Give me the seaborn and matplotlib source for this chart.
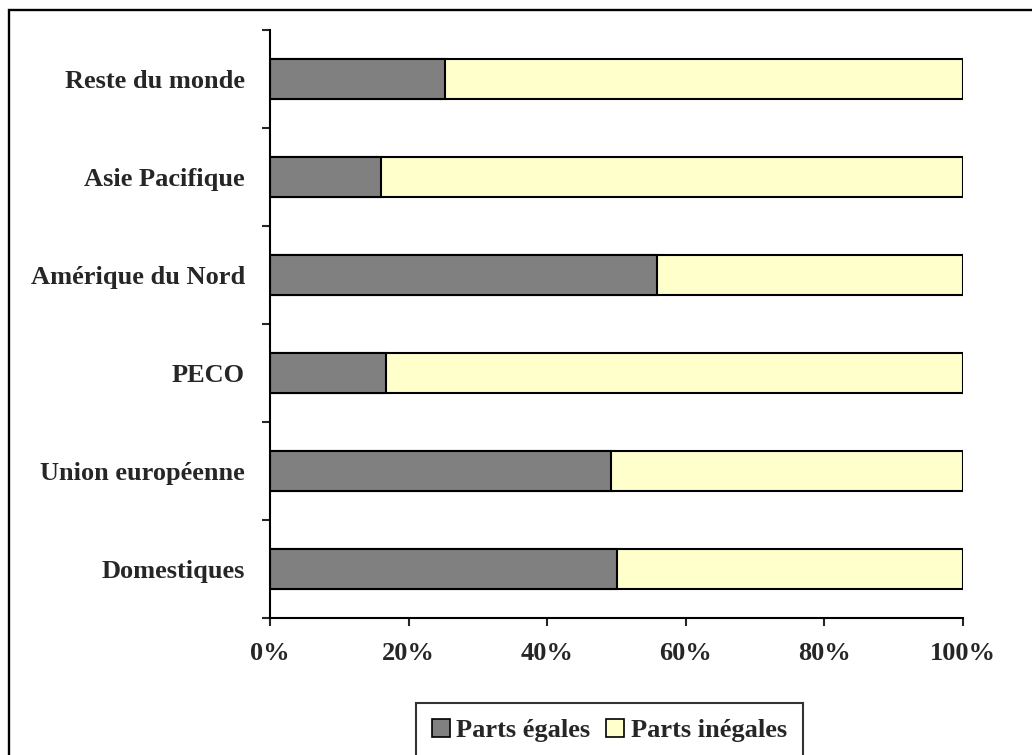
import numpy as np
import pandas as pd
import seaborn as sns
import matplotlib.pyplot as plt
from matplotlib.patches import Patch, Rectangle

regions = ['Reste du monde', 'Asie Pacifique', 'Amérique du Nord', 'PECO',
           'Union européenne', 'Domestiques']
parts_egales = [25.3, 16.0, 55.8, 16.7, 49.2, 50.1]
parts_inegales = [100 - v for v in parts_egales]
xtick_labels = ['0%', '20%', '40%', '60%', '80%', '100%']

df = pd.DataFrame({'region': regions, 'egales': parts_egales, 'inegales': parts_inegales})
df['total'] = df['egales'] + df['inegales']

sns.set_style('white')
plt.rcParams['font.family'] = ['Liberation Serif', 'DejaVu Serif']
plt.rcParams['font.weight'] = 'bold'

fig = plt.figure(figsize=(10.32, 7.55), dpi=100)
ax = fig.add_axes([0.2616, 0.1815, 0.6715, 0.7788])

grey = '#808080'
yellow = '#FFFFCC'

# stacked: full bar in yellow, then the grey share on top
sns.barplot(data=df, x='total', y='region', order=regions, color=yellow,
            edgecolor='black', linewidth=1.5, width=0.41, ax=ax, saturation=1)
sns.barplot(data=df, x='egales', y='region', order=regions, color=grey,
            edgecolor='black', linewidth=1.5, width=0.41, ax=ax, saturation=1)

ax.set_xlim(0, 100)
ax.set_ylim(len(regions) - 0.5, -0.5)
ax.set_xticks([0, 20, 40, 60, 80, 100])
ax.set_xticklabels(xtick_labels, fontsize=19, fontweight='bold')
ax.set_yticks(range(len(regions)))
ax.set_yticklabels(regions, fontsize=19, fontweight='bold')
ax.tick_params(axis='y', length=0, pad=18)
ax.set_yticks(np.arange(-0.5, len(regions), 1), minor=True)
ax.tick_params(axis='y', which='minor', left=True, length=6, width=1.5, direction='out')
ax.tick_params(axis='x', bottom=True, length=6, width=1.5, direction='out', pad=11.5)
ax.set_xlabel('')
ax.set_ylabel('')

for side in ['top', 'right']:
    ax.spines[side].set_visible(False)
for side in ['left', 'bottom']:
    ax.spines[side].set_linewidth(1.5)
    ax.spines[side].set_color('black')

handles = [Patch(facecolor=grey, edgecolor='black', linewidth=1.2, label='Parts égales'),
           Patch(facecolor=yellow, edgecolor='black', linewidth=1.2, label='Parts inégales')]
leg = fig.legend(handles=handles, loc='upper left', bbox_to_anchor=(0.403, 0.069), ncol=2,
                 frameon=True, fancybox=False, edgecolor='black',
                 prop={'weight': 'bold', 'size': 19}, handlelength=0.68, handleheight=0.68,
                 handletextpad=0.25, columnspacing=0.6, borderpad=0.6, borderaxespad=0)
leg.get_frame().set_linewidth(1.5)

# chart area border (right and bottom edges fall outside the image)
fig.patches.append(Rectangle((0.0087, -0.05), 1.1, 0.9868 + 0.05, transform=fig.transFigure,
                             fill=False, edgecolor='black', linewidth=1.7))

fig.savefig('out.png', dpi=100)
